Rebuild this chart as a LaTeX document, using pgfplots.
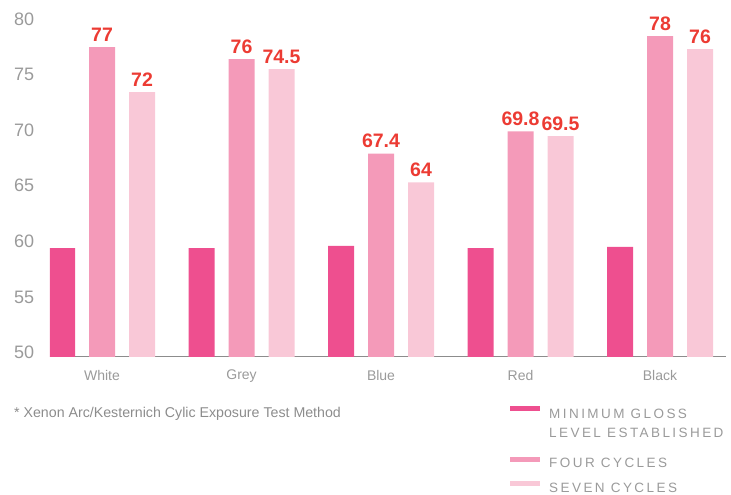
\documentclass[border=0pt]{standalone}
\usepackage{pgfplots}
\pgfplotsset{compat=1.18}
\usepackage{pgfplotstable}
\usepackage{graphicx}
\usepackage{fontspec}
\setmainfont{Liberation Sans}
\newfontfamily\legfont[LetterSpace=18]{Liberation Sans}
\definecolor{minc}{HTML}{EE4F8F}
\definecolor{fourc}{HTML}{F49AB9}
\definecolor{sevenc}{HTML}{F9C8D7}
\definecolor{labc}{HTML}{EC3B33}
\definecolor{tickc}{HTML}{9A9A9A}
\definecolor{axc}{HTML}{8C8C8C}

\pgfplotstableread{
x y
0 59.4
1 59.4
2 59.6
3 59.4
4 59.5
}\minimum
\pgfplotstableread{
x y lab
0 77.47 77
1 76.4 76
2 67.9 67.4
3 69.9 69.8
4 78.46 78
}\four
\pgfplotstableread{
x y lab
0 73.43 72
1 75.5 74.5
2 65.3 64
3 69.46 69.5
4 77.3 76
}\seven

\begin{document}
\begin{tikzpicture}
\path[use as bounding box] (0,0) rectangle (731pt,495pt);
\begin{axis}[
  at={(50pt,138pt)}, anchor=south west,
  scale only axis, width=676pt, height=338pt,
  xmin=-0.373, xmax=4.473, ymin=49.6, ymax=80,
  clip mode=individual,
  axis lines=left,
  axis line style={-},
  y axis line style={draw=none},
  x axis line style={draw=axc, line width=1pt},
  major tick length=0pt,
  xtick={0,1,2,3,4},
  xticklabels={White,Grey,Blue,Red,Black},
  ytick={50,55,60,65,70,75,80},
  /pgf/number format/assume math mode=true,
  yticklabel style={font=\fontsize{18}{18}\selectfont, text=tickc, anchor=east, inner sep=0pt, xshift=-15.7pt},
  xticklabel style={font=\fontsize{14}{14}\selectfont, text=tickc, anchor=north, inner sep=0pt, yshift=-13pt},
  nodes near coords style={font=\bfseries\fontsize{19.5}{20}\selectfont, text=labc, anchor=base, inner sep=0pt, yshift=6pt},
  legend cell align=left,
  legend style={at={(rel axis cs:0.6805,-0.145)}, anchor=north west, draw=none, fill=none,
    inner sep=0pt, column sep=9pt, row sep=9.3pt,
    nodes={inner sep=0pt, text depth=, text=tickc, font=\legfont\fontsize{13.5}{13.5}\selectfont}},
]
\addplot[ybar, bar width=26pt, bar shift=-40pt, fill=minc, draw=none,
  legend image code/.code={\fill[minc] (0pt,2.4pt) rectangle (30pt,7.4pt);}]
  table[x=x, y=y] {\minimum};
\addlegendentry{MINIMUM GLOSS}
\addlegendimage{empty legend}
\addlegendentry{LEVEL ESTABLISHED\rule[-11pt]{0pt}{11pt}}
\addplot[ybar, bar width=26pt, bar shift=0pt, fill=fourc, draw=none,
  point meta=explicit symbolic, nodes near coords,
  legend image code/.code={\fill[fourc] (0pt,2.4pt) rectangle (30pt,7.4pt);}]
  table[x=x, y=y, meta=lab] {\four};
\addlegendentry{FOUR CYCLES\rule[-4pt]{0pt}{4pt}}
\addplot[ybar, bar width=26pt, bar shift=40pt, fill=sevenc, draw=none,
  point meta=explicit symbolic, nodes near coords,
  every node near coord/.append style={xshift=40pt},
  legend image code/.code={\fill[sevenc] (0pt,2.4pt) rectangle (30pt,7.4pt);}]
  table[x=x, y=y, meta=lab] {\seven};
\addlegendentry{SEVEN CYCLES}
\node[anchor=west, inner sep=0pt, text=axc, font=\fontsize{14.2}{14.2}\selectfont]
  at (rel axis cs:-0.0533,-0.1686) {* Xenon Arc/Kesternich Cylic Exposure Test Method};
\end{axis}
\end{tikzpicture}
\end{document}
